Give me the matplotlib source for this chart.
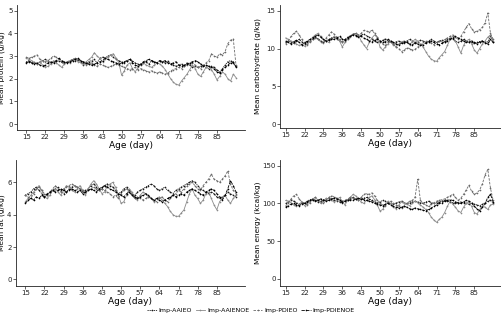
import numpy as np
import matplotlib
matplotlib.use("Agg")
import matplotlib.pyplot as plt

days = list(range(15, 93))
xticks = [15, 22, 29, 36, 43, 50, 57, 64, 71, 78, 85]
series_names = ["Imp-AAIEO", "Imp-AAIENOE", "Imp-PDIEO", "Imp-PDIENOE"]

protein = {
    "Imp-AAIEO": [2.75, 2.80, 2.70, 2.72, 2.65, 2.75, 2.80,
                  2.85, 2.80, 2.70, 2.75, 2.80, 2.78, 2.72,
                  2.70, 2.75, 2.78, 2.85, 2.80, 2.82, 2.75,
                  2.60, 2.70, 2.75, 2.80, 2.85, 2.70, 2.90,
                  2.95, 2.92, 3.00, 3.05, 2.95, 2.85, 2.80,
                  2.75, 2.70, 2.80, 2.85, 2.78, 2.70, 2.65,
                  2.60, 2.70, 2.75, 2.65, 2.80, 2.75, 2.70,
                  2.80, 2.75, 2.70, 2.78, 2.65, 2.60, 2.55,
                  2.60, 2.65, 2.55, 2.70, 2.60, 2.50, 2.55,
                  2.50, 2.55, 2.60, 2.50, 2.45, 2.55, 2.50,
                  2.40, 2.30, 2.45, 2.60, 2.75, 2.80, 2.70,
                  2.55],
    "Imp-AAIENOE": [2.90, 2.85, 2.80, 2.70, 2.65, 2.75, 2.60,
                    2.50, 2.55, 2.65, 2.80, 2.70, 2.60, 2.50,
                    2.65, 2.75, 2.70, 2.80, 2.85, 2.75, 2.70,
                    2.65, 2.75, 2.85, 2.95, 3.15, 3.00, 2.90,
                    2.75, 2.85, 2.95, 3.05, 3.10, 2.90, 2.70,
                    2.15, 2.35, 2.60, 2.70, 2.45, 2.30, 2.50,
                    2.65, 2.70, 2.60, 2.55, 2.50, 2.60, 2.70,
                    2.65, 2.55, 2.40, 2.20, 2.00, 1.85, 1.75,
                    1.72, 1.90, 2.05, 2.20, 2.40, 2.60, 2.45,
                    2.20, 2.10, 2.30, 2.50, 2.55, 2.40, 2.20,
                    1.95, 2.10, 2.30, 2.20, 2.00, 1.90, 2.20,
                    2.05],
    "Imp-PDIEO": [2.95, 2.90, 2.95, 3.00, 3.05, 2.85, 2.80,
                  2.75, 2.80, 2.90, 3.00, 2.95, 2.85, 2.75,
                  2.70, 2.75, 2.80, 2.85, 2.90, 2.85, 2.80,
                  2.70, 2.60, 2.65, 2.70, 2.60, 2.55, 2.65,
                  2.60, 2.55, 2.50, 2.55, 2.60, 2.65, 2.60,
                  2.55, 2.50, 2.45, 2.40, 2.45, 2.50, 2.40,
                  2.45, 2.40, 2.35, 2.30, 2.35, 2.30, 2.25,
                  2.30, 2.25, 2.20, 2.25, 2.35, 2.40, 2.45,
                  2.50, 2.45, 2.55, 2.60, 2.65, 2.70, 2.60,
                  2.50, 2.45, 2.55, 2.70, 2.80, 3.10, 3.00,
                  2.95, 3.10, 3.05, 3.20, 3.55, 3.70, 3.75,
                  2.60],
    "Imp-PDIENOE": [2.70, 2.75, 2.70, 2.65, 2.70, 2.60, 2.55,
                    2.60, 2.70, 2.75, 2.70, 2.80, 2.90, 2.80,
                    2.75, 2.70, 2.75, 2.80, 2.85, 2.90, 2.80,
                    2.75, 2.70, 2.65, 2.60, 2.65, 2.70, 2.75,
                    2.80, 2.90, 2.85, 2.80, 2.75, 2.70, 2.65,
                    2.70, 2.75, 2.80, 2.85, 2.70, 2.60, 2.55,
                    2.65, 2.75, 2.80, 2.85, 2.80, 2.75, 2.70,
                    2.80, 2.75, 2.80, 2.70, 2.65, 2.70, 2.75,
                    2.60, 2.55, 2.60, 2.65, 2.70, 2.75, 2.80,
                    2.75, 2.65, 2.55, 2.60, 2.55, 2.50, 2.45,
                    2.30, 2.25, 2.40, 2.50, 2.60, 2.70, 2.75,
                    2.50],
}

carbohydrate = {
    "Imp-AAIEO": [10.8, 11.0, 10.9, 10.7, 11.0, 11.2, 10.9,
                  10.6, 10.8, 11.0, 11.2, 11.5, 11.3, 11.0,
                  10.8, 11.0, 11.2, 11.4, 11.5, 11.3, 11.0,
                  10.9, 11.2, 11.5, 11.7, 11.9, 11.8, 11.6,
                  11.8, 11.9, 11.7, 11.5, 11.3, 11.0, 10.8,
                  10.9, 11.1, 11.3, 11.0, 10.8, 10.6, 10.9,
                  11.0, 10.8, 10.7, 11.0, 11.2, 11.0, 10.8,
                  10.9, 11.1, 11.0, 10.8, 11.0, 11.2, 11.0,
                  10.8, 11.0, 11.1, 10.9, 11.2, 11.4, 11.3,
                  11.0, 10.8, 11.0, 11.2, 11.0, 10.9, 10.8,
                  10.7, 10.8, 10.9, 11.0, 10.8, 10.9, 11.6,
                  10.9],
    "Imp-AAIENOE": [11.4, 11.2, 11.0, 10.8, 10.6, 10.4, 10.5,
                    10.3, 10.6, 11.0, 11.5, 11.8, 12.0, 11.6,
                    11.2, 11.0, 10.8, 11.3, 11.6, 11.4, 11.0,
                    10.2, 10.8, 11.2, 11.5, 11.9, 12.0, 11.8,
                    11.0, 10.5, 10.0, 10.8, 11.4, 11.8, 11.5,
                    10.2, 9.8, 10.2, 10.6, 11.0, 10.5, 10.2,
                    10.6, 10.9, 11.0, 10.8, 10.5, 10.9, 11.2,
                    11.0, 10.6, 10.2, 9.6, 9.0, 8.6, 8.4,
                    8.3, 8.8, 9.2, 9.6, 10.4, 11.2, 11.6,
                    11.0, 10.2, 9.4, 10.4, 11.0, 11.2, 10.6,
                    9.8, 9.4, 10.0, 10.6, 11.0, 11.5, 11.8,
                    11.0],
    "Imp-PDIEO": [10.6, 11.0, 11.6, 12.0, 12.3, 11.8, 11.2,
                  10.8, 10.5, 10.8, 11.2, 11.4, 11.2, 10.9,
                  10.7, 11.4, 11.8, 12.2, 11.9, 11.5, 11.2,
                  10.9, 11.0, 11.3, 11.6, 11.9, 12.0, 11.8,
                  12.0, 12.4, 12.3, 12.2, 12.4, 12.0, 11.5,
                  11.0, 10.6, 10.4, 10.8, 11.0, 10.6, 10.2,
                  10.0, 9.6, 9.8, 10.1, 10.0, 9.8, 9.9,
                  10.2, 10.4, 10.8, 11.0, 10.9, 10.7, 10.5,
                  10.8, 11.0, 10.9, 11.2, 11.4, 11.6, 11.8,
                  11.5, 11.2, 11.6, 12.2, 12.8, 13.3, 12.6,
                  12.2, 12.3, 12.5, 12.8, 13.4, 14.7, 12.0,
                  11.2],
    "Imp-PDIENOE": [11.0, 10.8, 10.6, 10.9, 11.1, 10.8, 10.5,
                    10.7, 11.0, 11.2, 11.4, 11.6, 11.8, 11.5,
                    11.2, 11.0, 11.1, 11.3, 11.2, 11.4, 11.6,
                    11.3, 11.1, 11.4, 11.6, 11.8, 11.7, 11.5,
                    11.6, 11.4, 11.2, 11.0, 10.9, 11.1, 11.3,
                    11.0, 10.8, 10.9, 11.2, 11.0, 10.8, 10.6,
                    10.5, 10.7, 10.9, 10.8, 10.6, 10.5, 10.7,
                    10.6, 10.4, 10.5, 10.7, 10.9, 11.0, 10.8,
                    10.6, 10.5, 10.7, 10.9, 11.0, 11.2, 11.4,
                    11.6, 11.4, 11.2, 11.0, 10.8, 10.9, 11.0,
                    10.8, 10.6, 10.9, 11.0, 10.7, 10.6, 11.2,
                    10.8],
}

fat = {
    "Imp-AAIEO": [5.2, 5.3, 5.4, 5.6, 5.7, 5.5, 5.3,
                  5.1, 5.2, 5.4, 5.5, 5.6, 5.7, 5.5,
                  5.3, 5.4, 5.6, 5.7, 5.8, 5.7, 5.6,
                  5.4, 5.5, 5.6, 5.8, 5.9, 5.7, 5.5,
                  5.6, 5.8, 5.9, 5.8, 5.7, 5.5, 5.3,
                  5.4, 5.6, 5.7, 5.5, 5.3, 5.2, 5.4,
                  5.5, 5.6, 5.7, 5.8, 5.9, 5.8, 5.6,
                  5.5, 5.6, 5.7, 5.5, 5.4, 5.3, 5.5,
                  5.6, 5.7, 5.8, 5.9, 6.0, 6.1, 6.0,
                  5.8, 5.6, 5.5, 5.4, 5.3, 5.4, 5.3,
                  5.1, 5.0, 5.1, 5.2, 5.4, 5.3, 5.2,
                  5.1],
    "Imp-AAIENOE": [4.8, 5.0, 5.2, 5.4, 5.6, 5.8, 5.5,
                    5.1, 5.0, 5.2, 5.5, 5.6, 5.4, 5.2,
                    5.5, 5.8, 5.7, 5.5, 5.4, 5.6, 5.8,
                    5.5, 5.2, 5.6, 5.9, 6.1, 5.9, 5.6,
                    5.3, 5.4, 5.8, 5.9, 6.0, 5.7, 5.2,
                    4.7, 4.8, 5.2, 5.6, 5.4, 5.0, 4.9,
                    5.2, 5.4, 5.3, 5.1, 5.0, 4.8, 5.0,
                    5.1, 4.9, 4.7, 4.5, 4.2, 4.0, 3.9,
                    3.9, 4.1, 4.3, 4.8, 5.3, 5.6, 5.2,
                    5.0, 4.7, 4.9, 5.3, 5.4, 5.0, 4.6,
                    4.3, 4.8, 5.0, 5.2, 4.9, 4.7, 5.0,
                    5.2],
    "Imp-PDIEO": [5.2, 5.1, 5.0, 5.3, 5.6, 5.7, 5.5,
                  5.3, 5.2, 5.4, 5.6, 5.8, 5.6, 5.4,
                  5.6, 5.7, 5.8, 5.9, 5.8, 5.7, 5.6,
                  5.5, 5.4, 5.5, 5.6, 5.7, 5.6, 5.5,
                  5.6, 5.5, 5.4, 5.3, 5.1, 5.2, 5.0,
                  5.3, 5.5, 5.6, 5.4, 5.2, 5.0, 5.1,
                  5.0, 4.9, 5.0, 5.1, 5.0, 4.9, 4.8,
                  5.0, 5.1, 4.9, 4.8, 5.0, 5.2, 5.3,
                  5.5, 5.4, 5.6, 5.8, 5.9, 6.0, 5.8,
                  5.6, 5.5, 5.8, 6.0, 6.2, 6.5, 6.2,
                  6.1, 6.0, 6.2, 6.4, 6.7, 5.9, 5.5,
                  5.3],
    "Imp-PDIENOE": [4.7, 4.9, 5.0, 4.9, 5.1, 5.0, 5.2,
                    5.1, 5.3, 5.4, 5.5, 5.4, 5.5, 5.6,
                    5.5, 5.4, 5.5, 5.6, 5.5, 5.4, 5.5,
                    5.3, 5.4, 5.5, 5.6, 5.5, 5.4, 5.6,
                    5.7, 5.8, 5.7, 5.6, 5.5, 5.4, 5.3,
                    5.2, 5.1, 5.3, 5.4, 5.2, 5.1, 5.0,
                    5.1, 5.2, 5.3, 5.2, 5.0, 4.9, 5.0,
                    4.9, 4.8, 4.9, 5.0, 5.1, 5.2, 5.1,
                    5.2, 5.3, 5.2, 5.4, 5.5, 5.6, 5.5,
                    5.4, 5.3, 5.2, 5.4, 5.5, 5.6, 5.5,
                    5.3, 5.1, 4.9, 5.2, 5.6, 6.1, 5.8,
                    5.4],
}

energy = {
    "Imp-AAIEO": [100, 102, 104, 103, 101, 99, 100,
                  101, 103, 105, 106, 104, 102, 103,
                  104, 105, 107, 106, 104, 103, 102,
                  101, 103, 105, 107, 108, 106, 105,
                  106, 107, 108, 106, 104, 102, 101,
                  102, 104, 103, 101, 100, 99, 101,
                  102, 103, 101, 100, 101, 102, 103,
                  102, 101, 100, 102, 103, 101, 100,
                  101, 102, 103, 104, 103, 102, 101,
                  100, 101, 102, 101, 100, 99, 100,
                  99, 98, 97, 99, 101, 103, 105,
                  100],
    "Imp-AAIENOE": [104, 103, 101, 98, 96, 99, 102,
                    97, 99, 103, 106, 108, 104, 100,
                    103, 107, 106, 104, 102, 105, 108,
                    103, 98, 104, 108, 112, 110, 106,
                    102, 100, 104, 108, 110, 105, 98,
                    90, 92, 98, 103, 100, 95, 93,
                    98, 102, 101, 99, 97, 100, 103,
                    101, 98, 95, 92, 88, 82, 78,
                    75, 79, 82, 88, 96, 103, 99,
                    95, 90, 88, 95, 100, 102, 96,
                    88, 86, 92, 97, 95, 92, 98,
                    99],
    "Imp-PDIEO": [97, 101, 106, 110, 112, 106, 102,
                  100, 98, 101, 104, 108, 105, 102,
                  100, 104, 108, 110, 109, 107, 105,
                  103, 104, 106, 108, 107, 106, 105,
                  108, 112, 113, 112, 114, 110, 104,
                  100, 98, 97, 101, 103, 100, 98,
                  96, 94, 97, 100, 103, 104, 108,
                  132, 104, 100, 98, 96, 99, 101,
                  103, 104, 105, 106, 108, 110, 112,
                  108, 104, 107, 112, 118, 124, 116,
                  112, 114, 118, 126, 138, 145, 120,
                  104],
    "Imp-PDIENOE": [95, 97, 99, 100, 98, 97, 99,
                    100, 102, 104, 105, 103, 104, 106,
                    105, 103, 104, 106, 107, 106, 104,
                    102, 103, 104, 105, 104, 106, 107,
                    106, 105, 104, 103, 102, 100, 99,
                    98, 97, 99, 100, 98, 96, 95,
                    94, 95, 96, 95, 93, 92, 94,
                    93, 92, 91, 90, 92, 94, 96,
                    98, 100, 101, 103, 104, 105, 104,
                    102, 101, 100, 102, 104, 103, 101,
                    96, 93, 90, 95, 100, 108, 112,
                    102],
}

styles = {
    "Imp-AAIEO": dict(color="#1a1a1a", linestyle=(0, (1.5, 1.0)), marker="o"),
    "Imp-AAIENOE": dict(color="#8a8a8a", linestyle="-", marker="o"),
    "Imp-PDIEO": dict(color="#6a6a6a", linestyle=(0, (3, 1.5)), marker="o"),
    "Imp-PDIENOE": dict(color="#000000", linestyle=(0, (4, 1.5)), marker="o"),
}

panels = [
    (protein, "Mean protein (g/kg)", [0, 1, 2, 3, 4, 5], (-0.26, 5.25), (11.6, 95.3),
     [17 / 502, 1 - 130 / 313, 228 / 502, 125 / 313], 5),
    (carbohydrate, "Mean carbohydrate (g/kg)", [0, 5, 10, 15], (-0.5, 15.75), (12.9, 94.9),
     [280 / 502, 1 - 128 / 313, 221 / 502, 123 / 313], 261),
    (fat, "Mean fat (g/kg)", [0, 2, 4, 6], (-0.41, 7.38), (11.6, 95.3),
     [16 / 502, 1 - 286 / 313, 229 / 502, 126 / 313], 5),
    (energy, "Mean energy (kcal/kg)", [0, 50, 100, 150], (-9.3, 157.5), (12.9, 94.9),
     [280 / 502, 1 - 286 / 313, 221 / 502, 126 / 313], 261),
]

fig = plt.figure(figsize=(5.02, 3.13), dpi=100)
handles = []
for data, ylabel, yt, ylim, xlim, rect, label_px in panels:
    ax = fig.add_axes(rect)
    hs = []
    for name in series_names:
        st = styles[name]
        h, = ax.plot(days, data[name], color=st["color"], linestyle=st["linestyle"],
                     linewidth=0.6, marker=st["marker"], markersize=1.2,
                     markeredgewidth=0, label=name)
        hs.append(h)
    if not handles:
        handles = hs
    ax.set_xlim(*xlim)
    ax.set_ylim(*ylim)
    ax.set_xticks(xticks)
    ax.set_yticks(yt)
    ax.tick_params(labelsize=5, length=2, width=0.5, pad=1.2, colors="#222222")
    for s in ["top", "right"]:
        ax.spines[s].set_visible(False)
    for s in ["left", "bottom"]:
        ax.spines[s].set_linewidth(0.6)
        ax.spines[s].set_color("#222222")
    ax.set_xlabel("Age (day)", fontsize=6.5, labelpad=0.5)
    ax.set_ylabel(ylabel, fontsize=5.3)
    left_px = rect[0] * 502
    width_px = rect[2] * 502
    ax.yaxis.set_label_coords((label_px - left_px) / width_px, 0.5)

fig.legend(handles, series_names, loc="lower center", ncol=4, fontsize=4.5,
           frameon=False, bbox_to_anchor=(0.5, -0.015), handlelength=1.5,
           columnspacing=0.6, handletextpad=0.3, borderpad=0.2)

fig.savefig("out.png", dpi=100, facecolor="white")
